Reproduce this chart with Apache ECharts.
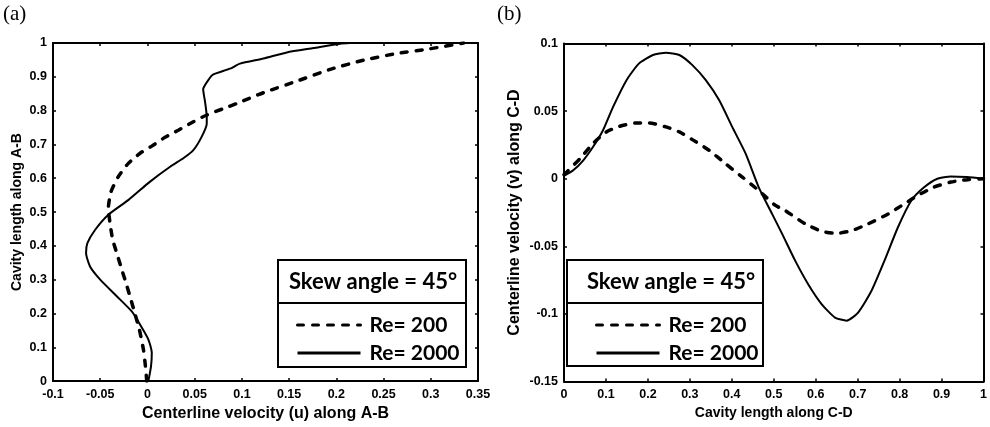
<!DOCTYPE html>
<html><head><meta charset="utf-8">
<script src="https://cdn.jsdelivr.net/npm/echarts@6/dist/echarts.min.js"></script>
<style>html,body{margin:0;padding:0;background:#fff}#c{width:990px;height:427px}</style>
</head><body><div id="c"></div>
<script>
// Panel (a): centerline velocity u along A-B -> pairs [u, position]
const panelA_Re200 = [[-0.0007,0.0],[-0.0025,0.054],[-0.0043,0.094],[-0.0086,0.153],[-0.013,0.197],[-0.018,0.246],[-0.0227,0.290],[-0.0272,0.330],[-0.0325,0.379],[-0.0368,0.418],[-0.0396,0.467],[-0.0414,0.511],[-0.0386,0.560],[-0.0308,0.605],[-0.0202,0.644],[-0.0078,0.674],[0.0046,0.695],[0.0186,0.721],[0.0327,0.742],[0.0486,0.767],[0.0628,0.787],[0.0804,0.806],[0.0946,0.821],[0.1228,0.853],[0.158,0.887],[0.1934,0.922],[0.2287,0.949],[0.264,0.969],[0.2994,0.983],[0.3347,1.0]];
const panelA_Re2000 = [[0.001,0.0],[0.0038,0.044],[0.0046,0.084],[0.001,0.123],[-0.0078,0.167],[-0.0166,0.206],[-0.0325,0.251],[-0.050,0.300],[-0.0608,0.339],[-0.065,0.379],[-0.0636,0.408],[-0.0555,0.447],[-0.0414,0.492],[-0.020,0.536],[0.0028,0.590],[0.024,0.634],[0.038,0.659],[0.0486,0.683],[0.0575,0.723],[0.0628,0.762],[0.0628,0.782],[0.061,0.826],[0.059,0.863],[0.0656,0.895],[0.0698,0.907],[0.0875,0.924],[0.098,0.939],[0.1228,0.954],[0.1476,0.972],[0.1758,0.985],[0.204,0.998],[0.2146,1.0]];
// Panel (b): centerline velocity v along C-D -> pairs [position, v]
const panelB_Re200 = [[0,0.003],[0.038,0.0148],[0.069,0.026],[0.101,0.0346],[0.133,0.0388],[0.172,0.0412],[0.204,0.0412],[0.243,0.0383],[0.275,0.0346],[0.306,0.0289],[0.346,0.021],[0.385,0.0111],[0.425,0.0012],[0.464,-0.0087],[0.504,-0.0198],[0.527,-0.0235],[0.575,-0.0334],[0.614,-0.0389],[0.650,-0.0404],[0.686,-0.0384],[0.725,-0.0334],[0.773,-0.026],[0.812,-0.0185],[0.843,-0.0124],[0.882,-0.0062],[0.922,-0.0025],[0.962,-0.0007],[1.0,0]];
const panelB_Re2000 = [[0,0.002],[0.022,0.0062],[0.046,0.0136],[0.069,0.0234],[0.093,0.0358],[0.117,0.0531],[0.149,0.0729],[0.179,0.0853],[0.212,0.0915],[0.243,0.0932],[0.275,0.0915],[0.306,0.084],[0.338,0.0729],[0.370,0.058],[0.401,0.0383],[0.433,0.0185],[0.464,-0.0062],[0.496,-0.026],[0.520,-0.0408],[0.551,-0.0606],[0.582,-0.078],[0.614,-0.0927],[0.646,-0.1027],[0.674,-0.105],[0.701,-0.099],[0.733,-0.0829],[0.764,-0.0606],[0.796,-0.0359],[0.828,-0.0161],[0.859,-0.0062],[0.890,0],[0.922,0.0017],[0.961,0.0012],[1.0,0]];

const seriesNames = ['Re= 200', 'Re= 2000'];
const legendTitle = 'Skew angle = 45°';
const panelLabels = ['(a)', '(b)'];
const xNames = ['Centerline velocity (u) along A-B', 'Cavity length along C-D'];
const yNames = ['Cavity length along A-B', 'Centerline velocity (v) along C-D'];
const xRanges = [[-0.1, 0.35, 0.05], [0, 1, 0.1]];
const yRanges = [[0, 1, 0.1], [-0.15, 0.1, 0.05]];

const FONT = 'Liberation Sans';
const LFONT = 'Lato';
const chart = echarts.init(document.getElementById('c'), null, {renderer: 'canvas'});

const grids = [
  {left: 53, top: 43, width: 425, height: 339},
  {left: 564, top: 43.5, width: 422, height: 338}
];

function mainX(i, fs, gap) {
  return {
    type: 'value', gridIndex: i, position: 'bottom',
    min: xRanges[i][0], max: xRanges[i][1], interval: xRanges[i][2],
    name: xNames[i], nameLocation: 'middle', nameGap: gap,
    nameTextStyle: {fontFamily: FONT, fontWeight: 'bold', fontSize: fs, color: '#000'},
    axisLine: {show: true, onZero: false, lineStyle: {color: '#000', width: 2}},
    axisTick: {show: true, inside: true, length: 3, lineStyle: {color: '#000', width: 1.5}},
    axisLabel: {fontFamily: FONT, fontWeight: 'bold', fontSize: 12.5, color: '#000', margin: 7},
    splitLine: {show: false}
  };
}
function mirrorX(i) {
  return {
    type: 'value', gridIndex: i, position: 'top',
    min: xRanges[i][0], max: xRanges[i][1], interval: xRanges[i][2],
    axisLine: {show: true, onZero: false, lineStyle: {color: '#000', width: 2}},
    axisTick: {show: true, inside: true, length: 3, lineStyle: {color: '#000', width: 1.5}},
    axisLabel: {show: false}, splitLine: {show: false}
  };
}
function mainY(i, fs, gap) {
  return {
    type: 'value', gridIndex: i, position: 'left',
    min: yRanges[i][0], max: yRanges[i][1], interval: yRanges[i][2],
    name: yNames[i], nameLocation: 'middle', nameGap: gap, nameRotate: 90,
    nameTextStyle: {fontFamily: FONT, fontWeight: 'bold', fontSize: fs, color: '#000'},
    axisLine: {show: true, onZero: false, lineStyle: {color: '#000', width: 2}},
    axisTick: {show: true, inside: true, length: 3, lineStyle: {color: '#000', width: 1.5}},
    axisLabel: {fontFamily: FONT, fontWeight: 'bold', fontSize: 12.5, color: '#000', margin: 6},
    splitLine: {show: false}
  };
}
function mirrorY(i) {
  return {
    type: 'value', gridIndex: i, position: 'right',
    min: yRanges[i][0], max: yRanges[i][1], interval: yRanges[i][2],
    axisLine: {show: true, onZero: false, lineStyle: {color: '#000', width: 2}},
    axisTick: {show: true, inside: true, length: 3, lineStyle: {color: '#000', width: 1.5}},
    axisLabel: {show: false}, splitLine: {show: false}
  };
}

const dashStyle = {color: '#000', width: 3.5, type: [6, 9], cap: 'round'};
const solidStyle = {color: '#000', width: 2, type: 'solid'};

function lineSeries(name, data, xi, yi, style) {
  return {
    type: 'line', name: name, data: data, xAxisIndex: xi, yAxisIndex: yi,
    showSymbol: false, symbol: 'none', smooth: 0.2, z: 2,
    lineStyle: style, itemStyle: {color: '#000'}, animation: false
  };
}

function legendFor(left) {
  return {
    left: left, top: 309, orient: 'vertical', itemWidth: 63, itemHeight: 14, itemGap: 6,
    selectedMode: false, z: 6,
    data: seriesNames,
    itemStyle: {opacity: 0},
    textStyle: {fontFamily: LFONT, fontWeight: 'bold', fontSize: 21, color: '#000', lineHeight: 22, padding: [0, 0, 0, 4]},
    lineStyle: {width: 3, opacity: 1}
  };
}

function legendBox(x, y, w, h, dividerY, titleX) {
  return [
    {type: 'rect', z: 5, shape: {x: x, y: y, width: w, height: h}, style: {fill: '#fff', stroke: '#000', lineWidth: 2}},
    {type: 'line', z: 5, shape: {x1: x, y1: dividerY, x2: x + w, y2: dividerY}, style: {stroke: '#000', lineWidth: 2}},
    {type: 'text', z: 6, style: {text: legendTitle, x: titleX, y: y + 22, align: 'center', verticalAlign: 'middle', fontFamily: LFONT, fontWeight: 'bold', fontSize: 22, fill: '#000'}}
  ];
}

const option = {
  animation: false,
  backgroundColor: '#fff',
  grid: grids,
  xAxis: [mainX(0, 16, 23), mirrorX(0), mainX(1, 14, 24), mirrorX(1)],
  yAxis: [mainY(0, 14, 29), mirrorY(0), mainY(1, 16, 41), mirrorY(1)],
  legend: [legendFor(291), legendFor(590)],
  series: [
    lineSeries(seriesNames[0], panelA_Re200, 0, 0, dashStyle),
    lineSeries(seriesNames[1], panelA_Re2000, 0, 0, solidStyle),
    lineSeries(seriesNames[0], panelB_Re200, 2, 2, dashStyle),
    lineSeries(seriesNames[1], panelB_Re2000, 2, 2, solidStyle)
  ],
  graphic: [
    {type: 'text', style: {text: panelLabels[0], x: 3, y: 4, fontFamily: 'Liberation Serif', fontSize: 21, fill: '#000'}},
    {type: 'text', style: {text: panelLabels[1], x: 497, y: 4, fontFamily: 'Liberation Serif', fontSize: 21, fill: '#000'}}
  ].concat(legendBox(278, 260, 188, 107, 303, 373)).concat(legendBox(567, 260, 196, 106, 303, 671))
};
chart.setOption(option);
</script>
</body></html>
